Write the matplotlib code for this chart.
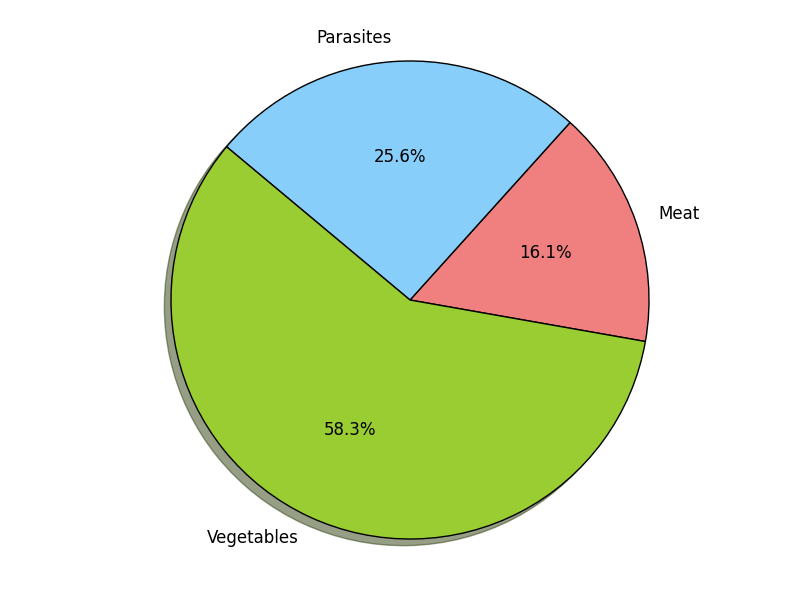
import matplotlib
matplotlib.use("Agg")
import matplotlib.pyplot as plt

labels = ['Meat', 'Parasites', 'Vegetables']
sizes = [16.1, 25.6, 58.3]
colors = ['lightcoral', 'lightskyblue', 'yellowgreen']

fig, ax = plt.subplots(figsize=(8, 6), dpi=100)
fig.subplots_adjust(left=0.125, right=0.9, bottom=0.0, top=1.0)
ax.pie(sizes, labels=labels, colors=colors, autopct='%1.1f%%', shadow=True,
       startangle=-10, wedgeprops={'edgecolor': 'black'},
       textprops={'fontsize': 12})
ax.set_aspect('equal', adjustable='datalim')
ax.set_ylim(-1.297, 1.297)
ax.set_xlim(-1.297, 1.297)
fig.savefig('out.png')
